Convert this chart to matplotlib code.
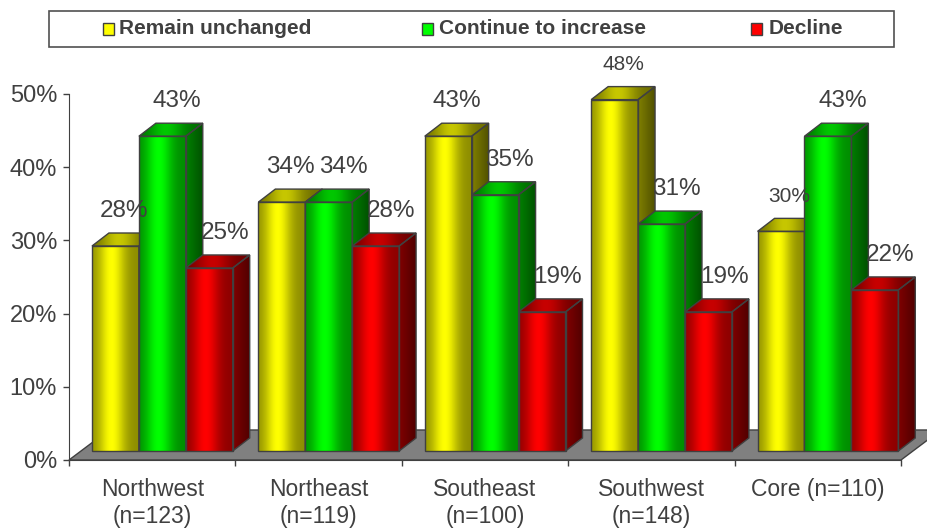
"""
3D-style grouped bar chart: expected change by region.
"""

import numpy as np
import matplotlib.pyplot as plt
from matplotlib.colors import to_rgb
from matplotlib.patches import Polygon, Rectangle

# Data
regions = ["Northwest\n(n=123)", "Northeast\n(n=119)", "Southeast\n(n=100)",
           "Southwest\n(n=148)", "Core (n=110)"]
series = ["Remain unchanged", "Continue to increase", "Decline"]
remain = [28, 34, 43, 48, 30]
increase = [43, 34, 35, 31, 43]
decline = [25, 28, 19, 19, 22]

colors = ["#ffff00", "#00ff00", "#ff0000"]
edge = "#404040"
text_col = "#404040"
small_labels = {(0, 3), (0, 4)}  # (series, region) drawn with a smaller font
label_shift_px = [0, 6, 7]       # value label nudge per series

plt.rcParams["font.family"] = ["Liberation Sans", "DejaVu Sans"]

W, H = 927, 529
fig = plt.figure(figsize=(W / 100, H / 100), dpi=100)

# axes scale: one category = 166.4 px, 1 % = 7.32 px
xu, yu = 166.4, 7.32
xmax, ymax = 5.4, 62
ax = fig.add_axes([69 / W, (H - 460) / H, xmax * xu / W, ymax * yu / H])

# 3D geometry (data units)
bar_w = 0.282
bar_off = 0.138
base = 1.23
ddx, ddy = 0.102, 1.78          # bar depth
fdx, fdy = 0.24, 4.1            # floor depth

t = np.linspace(0, 1, 120)
shade = 0.55 + 0.45 * np.exp(-((t - 0.42) / 0.28) ** 2)


def grad(color, k, profile=shade):
    c = np.array(to_rgb(color))
    return np.clip(profile[:, None] * k * c, 0, 1)[None, :, :]


# floor
n = len(regions)
floor = Polygon([(0, 0), (n, 0), (n + fdx, fdy), (fdx, fdy)], closed=True,
                facecolor="#808080", edgecolor=edge, lw=1, clip_on=False, zorder=1)
ax.add_patch(floor)

values = [remain, increase, decline]
z = 2
side_profile = np.linspace(0.5, 0.32, 40)
for r in range(n):
    for s, vals in enumerate(values):
        v = vals[r]
        c = colors[s]
        l = r + bar_off + s * bar_w
        rt = l + bar_w
        b = base
        top = base + v

        side = Polygon([(rt, b), (rt + ddx, b + ddy), (rt + ddx, top + ddy), (rt, top)],
                       closed=True, transform=ax.transData)
        im = ax.imshow(grad(c, 1.0, side_profile), extent=[rt, rt + ddx, b, top + ddy],
                       aspect="auto", interpolation="bilinear", zorder=z)
        im.set_clip_path(side)

        lid = Polygon([(l, top), (rt, top), (rt + ddx, top + ddy), (l + ddx, top + ddy)],
                      closed=True, transform=ax.transData)
        im = ax.imshow(grad(c, 0.78), extent=[l, rt + ddx, top, top + ddy],
                       aspect="auto", interpolation="bilinear", zorder=z)
        im.set_clip_path(lid)

        ax.imshow(grad(c, 1.0), extent=[l, rt, b, top], aspect="auto",
                  interpolation="bilinear", zorder=z)

        for pts in ([(rt, b), (rt + ddx, b + ddy), (rt + ddx, top + ddy), (rt, top)],
                    [(l, top), (rt, top), (rt + ddx, top + ddy), (l + ddx, top + ddy)],
                    [(l, b), (rt, b), (rt, top), (l, top)]):
            ax.add_patch(Polygon(pts, closed=True, fill=False, edgecolor=edge,
                                 lw=1, zorder=z + 0.5))
        z += 1

        fs = 15 if (s, r) in small_labels else 17.5
        lx = l + bar_w / 2 + ddx / 2 + label_shift_px[s] / xu
        ax.text(lx, top + ddy + 3.0, f"{v}%", ha="center",
                va="center", fontsize=fs, color=text_col, zorder=100)

ax.set_xlim(0, xmax)
ax.set_ylim(0, ymax)

for sp in ("top", "right"):
    ax.spines[sp].set_visible(False)
ax.spines["left"].set_bounds(0, 50)
ax.spines["bottom"].set_bounds(0, n)
for sp in ("left", "bottom"):
    ax.spines[sp].set_color(edge)
    ax.spines[sp].set_zorder(1.5)

ax.set_yticks(range(0, 51, 10))
ax.set_yticklabels([f"{v}%" for v in range(0, 51, 10)])
ax.tick_params(axis="y", direction="out", length=4.3, width=1, color=edge,
               labelsize=17, labelcolor=text_col, pad=4.3)

ax.set_xticks(range(n + 1))
ax.set_xticklabels([])
ax.set_xticks(np.arange(n) + 0.5, minor=True)
ax.set_xticklabels(regions, minor=True)
ax.tick_params(axis="x", which="major", direction="out", length=4.3, width=1, color=edge)
ax.tick_params(axis="x", which="minor", length=0, labelsize=16.5,
               labelcolor=text_col, pad=13)
ax.patch.set_alpha(0)

# legend box (figure pixel coords)
def fx(px):
    return px / W


def fy(py):
    return 1 - py / H


fig.add_artist(Rectangle((fx(49), fy(47)), fx(894) - fx(49), fy(11) - fy(47),
                         transform=fig.transFigure, facecolor="white",
                         edgecolor="#505050", lw=1.2))
marker_x = [103, 422, 751]
text_x = [119, 439, 769]
for s, name in enumerate(series):
    fig.add_artist(Rectangle((fx(marker_x[s]), fy(35)), fx(11), 12 / H,
                             transform=fig.transFigure, facecolor=colors[s],
                             edgecolor=edge, lw=1))
    fig.text(fx(text_x[s]), fy(29), name, ha="left", va="center", fontsize=15,
             fontweight="bold", color=text_col)

fig.savefig("out.png", dpi=100)
